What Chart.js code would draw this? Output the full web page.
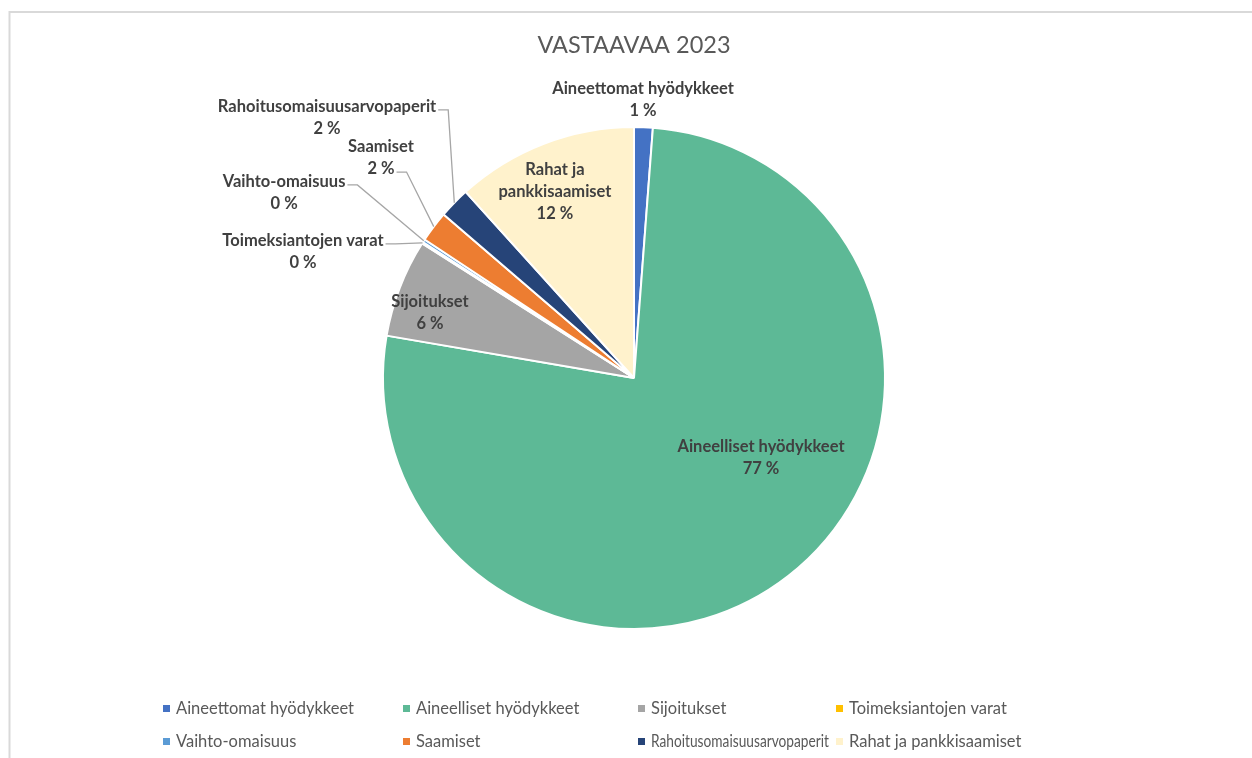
<!DOCTYPE html>
<html>
<head>
<meta charset="utf-8">
<script src="https://cdn.jsdelivr.net/npm/chart.js@4/dist/chart.umd.min.js"></script>
<style>
  body { margin: 0; background: #fff; overflow: hidden; }
</style>
</head>
<body>
<canvas id="pie" width="1252" height="758"></canvas>
<script>
const chartTitle = 'VASTAAVAA 2023';
const categories = [
    'Aineettomat hyödykkeet',
    'Aineelliset hyödykkeet',
    'Sijoitukset',
    'Toimeksiantojen varat',
    'Vaihto-omaisuus',
    'Saamiset',
    'Rahoitusomaisuusarvopaperit',
    'Rahat ja pankkisaamiset'
];
const shares = [1.2, 76.5, 6.3, 0.1, 0.2, 2.0, 2.0, 11.7]; // % of total
const sliceColors = ['#4472C4', '#5DB996', '#A5A5A5', '#FFC000', '#5B9BD5', '#ED7D31', '#264478', '#FFF2CC'];

// where each data label sits, relative to the pie centre in radius units
const labelSpots = [
    {dx: 0.036, dy: -1.151},
    {dx: 0.506, dy: 0.275},
    {dx: -0.813, dy: -0.303},
    {dx: -1.319, dy: -0.546, leader: 0},
    {dx: -1.394, dy: -0.781, leader: 0},
    {dx: -1.008, dy: -0.920, leader: 1},
    {dx: -1.223, dy: -1.080, leader: 0},
    {dx: -0.315, dy: -0.829, lines: ['Rahat ja', 'pankkisaamiset']}
];

// legend grid (Excel style, 4 columns x 2 rows)
const legendCols = [163, 403, 638, 836];
const legendRows = [709, 742];

const FONT = 'Lato, "Open Sans", sans-serif';

const frameAndTitle = {
    id: 'frameAndTitle',
    beforeDraw(chart) {
        const ctx = chart.ctx;
        ctx.save();
        ctx.fillStyle = '#fff';
        ctx.fillRect(0, 0, chart.width, chart.height);
        ctx.strokeStyle = '#D9D9D9';
        ctx.lineWidth = 2;
        ctx.strokeRect(9.5, 12, 1400, 900);
        ctx.fillStyle = '#595959';
        ctx.font = '23.5px ' + FONT;
        ctx.textAlign = 'center';
        ctx.textBaseline = 'middle';
        ctx.fillText(chartTitle, 634, 45);
        ctx.restore();
    }
};

const sliceLabels = {
    id: 'sliceLabels',
    afterDatasetsDraw(chart) {
        const ctx = chart.ctx;
        const meta = chart.getDatasetMeta(0);
        const total = shares.reduce((a, b) => a + b, 0);
        const lineH = 22;
        ctx.save();
        ctx.font = 'bold 16.5px ' + FONT;
        ctx.textAlign = 'center';
        ctx.textBaseline = 'middle';
        meta.data.forEach((arc, i) => {
            const spot = labelSpots[i];
            const p = arc.getProps(['x', 'y', 'outerRadius', 'startAngle', 'endAngle'], true);
            const lines = spot.lines ? spot.lines.slice() : [categories[i]];
            lines.push(Math.round(shares[i] / total * 100) + ' %');
            const lx = p.x + spot.dx * p.outerRadius;
            const ly = p.y + spot.dy * p.outerRadius;

            if (spot.leader !== undefined) {
                const mid = (p.startAngle + p.endAngle) / 2;
                const ex = p.x + Math.cos(mid) * p.outerRadius;
                const ey = p.y + Math.sin(mid) * p.outerRadius;
                const w = ctx.measureText(lines[spot.leader]).width;
                const sx = lx + w / 2 + 2;
                const sy = ly + spot.leader * lineH + 3;
                ctx.beginPath();
                ctx.moveTo(sx, sy);
                ctx.lineTo(sx + 10, sy);
                ctx.lineTo(ex, ey);
                ctx.strokeStyle = '#A6A6A6';
                ctx.lineWidth = 1.3;
                ctx.stroke();
            }

            ctx.fillStyle = '#404040';
            lines.forEach((t, k) => ctx.fillText(t, lx, ly + k * lineH));
        });
        ctx.restore();
    }
};

const gridLegend = {
    id: 'gridLegend',
    afterDraw(chart) {
        const ctx = chart.ctx;
        const ds = chart.data.datasets[0];
        ctx.save();
        ctx.font = '16.5px ' + FONT;
        ctx.textAlign = 'left';
        ctx.textBaseline = 'middle';
        chart.data.labels.forEach((label, i) => {
            const col = i % 4;
            const x = legendCols[col];
            const y = legendRows[Math.floor(i / 4)];
            const room = col < 3 ? legendCols[col + 1] - x - 20 : 300;
            ctx.fillStyle = ds.backgroundColor[i];
            ctx.fillRect(x, y - 4, 7, 7);
            ctx.fillStyle = '#595959';
            ctx.fillText(label, x + 13, y, room);
        });
        ctx.restore();
    }
};

new Chart(document.getElementById('pie'), {
    type: 'pie',
    data: {
        labels: categories,
        datasets: [{
            data: shares,
            backgroundColor: sliceColors,
            borderColor: '#fff',
            borderWidth: 2
        }]
    },
    options: {
        responsive: false,
        animation: false,
        layout: {padding: {left: 382, right: 366, top: 126, bottom: 128}},
        plugins: {
            legend: {display: false},
            title: {display: false},
            tooltip: {enabled: false}
        }
    },
    plugins: [frameAndTitle, sliceLabels, gridLegend]
});
</script>
</body>
</html>
